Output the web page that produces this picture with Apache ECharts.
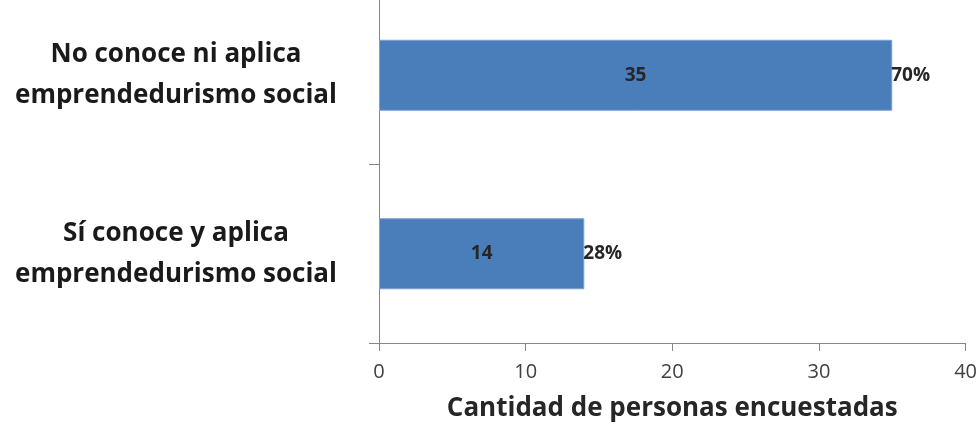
<!DOCTYPE html>
<html>
<head>
<meta charset="utf-8">
<script src="https://cdn.jsdelivr.net/npm/echarts@6/dist/echarts.min.js"></script>
<style>html,body{margin:0;padding:0;background:#fff;overflow:hidden}#c{width:980px;height:442px;margin-top:-14px}</style>
</head>
<body>
<div id="c"></div>
<script>
var categories = ['Sí conoce y aplica\nemprendedurismo social', 'No conoce ni aplica\nemprendedurismo social'];
var counts = [14, 35];
var percents = ['28%', '70%'];
var xTicks = {min: 0, max: 40, interval: 10};
var axisTitle = 'Cantidad de personas encuestadas';

var chart = echarts.init(document.getElementById('c'));
var FONT = '"Open Sans", sans-serif';
chart.setOption({
  animation: false,
  grid: {left: 379, right: 14, top: 0, bottom: 85},
  xAxis: {
    type: 'value', min: xTicks.min, max: xTicks.max, interval: xTicks.interval,
    splitLine: {show: false},
    axisLine: {show: true, lineStyle: {color: '#868686', width: 1}},
    axisTick: {show: true, length: 8, lineStyle: {color: '#868686'}},
    axisLabel: {fontFamily: FONT, fontSize: 20, color: '#404040', margin: 19},
    name: axisTitle, nameLocation: 'middle', nameGap: 53,
    nameTextStyle: {fontFamily: FONT, fontSize: 26, fontWeight: 'bold', color: '#262626'}
  },
  yAxis: {
    type: 'category', data: categories,
    axisLine: {show: true, lineStyle: {color: '#868686', width: 1}},
    axisTick: {show: true, length: 10, lineStyle: {color: '#868686'}},
    axisLabel: {fontFamily: FONT, fontSize: 26, fontWeight: 'bold', color: '#1a1a1a',
      align: 'center', margin: 203, lineHeight: 41, padding: [8, 0, 0, 0]}
  },
  series: [{
    type: 'bar', data: counts, barWidth: 71,
    itemStyle: {color: '#4a7ebb', borderColor: '#7da1cf', borderWidth: 1},
    label: {show: true, position: 'inside', fontFamily: FONT, fontSize: 19, fontWeight: 'bold', color: '#262626'}
  }, {
    type: 'bar', data: counts, barWidth: 71, barGap: '-100%',
    itemStyle: {color: 'rgba(0,0,0,0)'},
    label: {show: true, position: 'right', distance: -1, fontFamily: FONT, fontSize: 19, fontWeight: 'bold', color: '#262626',
      formatter: function (p) { return percents[p.dataIndex]; }}
  }]
});
</script>
</body>
</html>
